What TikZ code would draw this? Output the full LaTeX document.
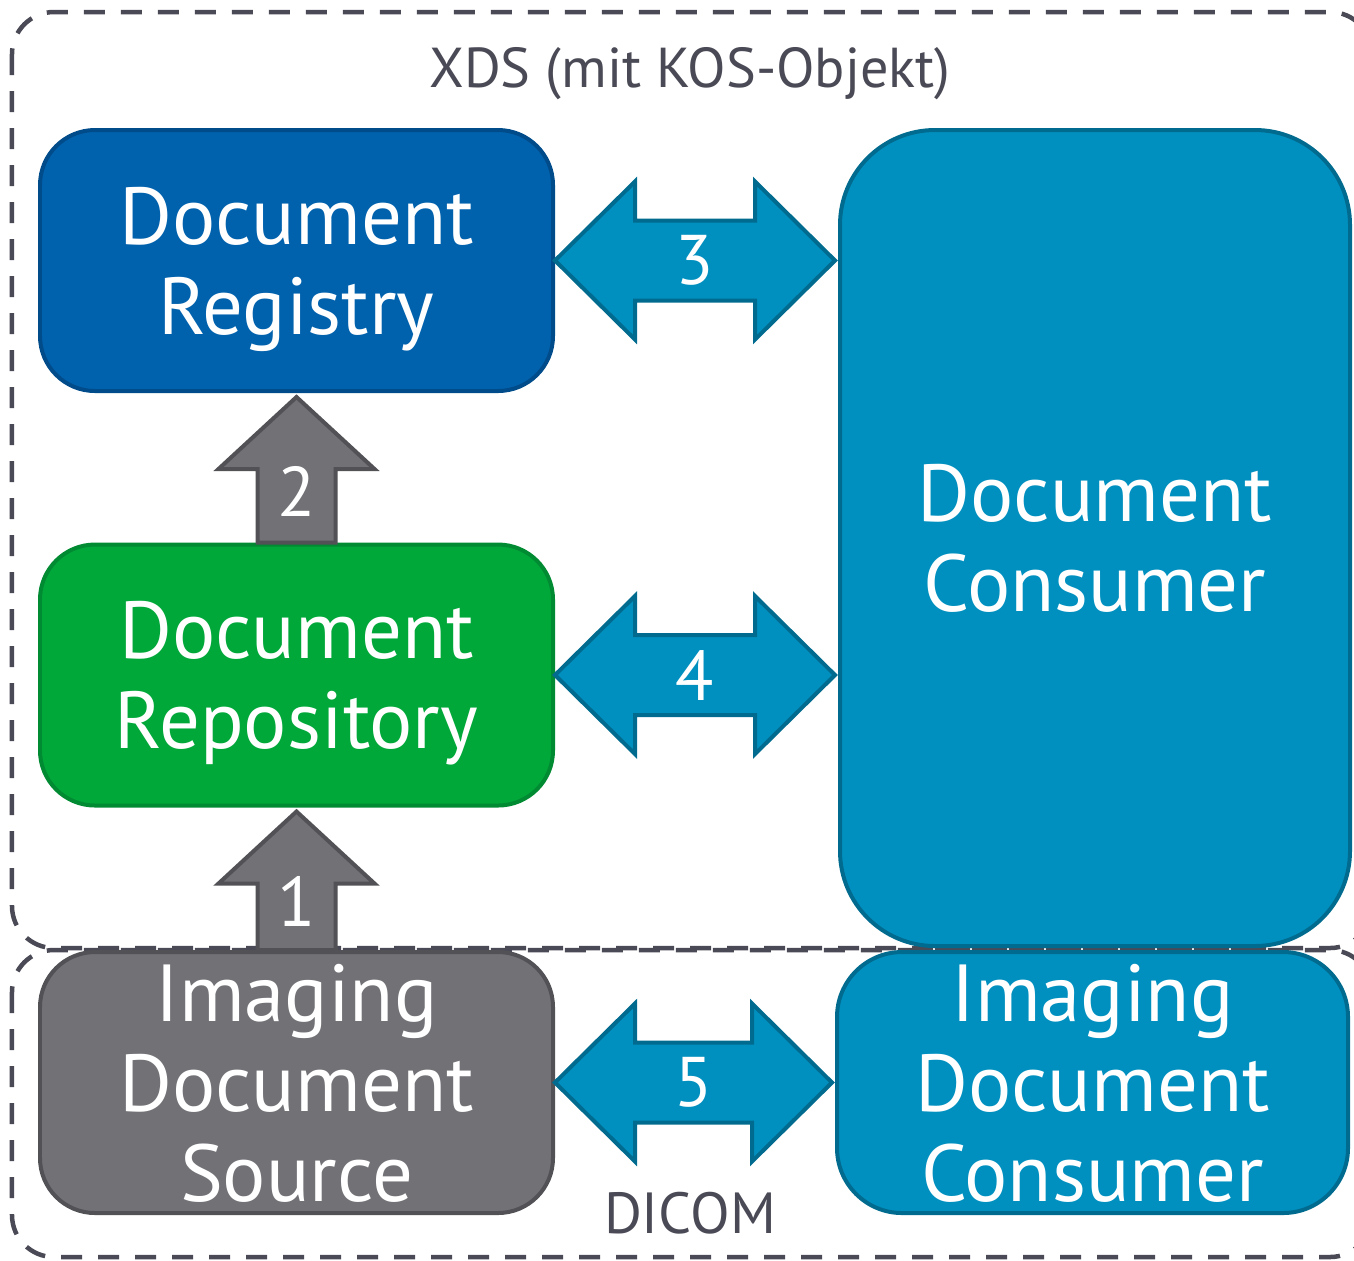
\documentclass[tikz,border=0pt]{standalone}
\usepackage{fontspec}
\setmainfont{PT Sans}
\usetikzlibrary{calc}
\definecolor{regblue}{HTML}{0061AD}
\definecolor{regline}{HTML}{004C8A}
\definecolor{repgreen}{HTML}{00A83A}
\definecolor{repline}{HTML}{008A32}
\definecolor{srcgray}{HTML}{717176}
\definecolor{srcline}{HTML}{525256}
\definecolor{consblue}{HTML}{0090C0}
\definecolor{consline}{HTML}{006B8E}
\definecolor{framegray}{HTML}{4A4A56}
\tikzstyle{frame}=[draw=framegray,line width=0.045cm,dash pattern=on 0.21cm off 0.16cm,rounded corners=0.42cm]
\tikzstyle{label}=[text=framegray,font=\fontsize{16}{18}\selectfont]
\tikzstyle{box}=[rounded corners=0.55cm,line width=0.04cm,text=white,align=center,inner sep=0pt,text depth=0pt,
  minimum width=5.13cm,minimum height=2.61cm,font=\fontsize{23}{25.6}\selectfont]
\tikzstyle{registry box}=[box,fill=regblue,draw=regline]
\tikzstyle{repository box}=[box,fill=repgreen,draw=repline]
\tikzstyle{source box}=[box,fill=srcgray,draw=srcline]
\tikzstyle{consumer box}=[box,fill=consblue,draw=consline]
\tikzstyle{blue arrow}=[fill=consblue,draw=consline,line width=0.04cm]
\tikzstyle{gray arrow}=[fill=srcgray,draw=srcline,line width=0.04cm]
\tikzstyle{num}=[text=white,inner sep=0pt,font=\fontsize{20}{20}\selectfont]

\begin{document}
\begin{tikzpicture}
    \useasboundingbox (0,0) rectangle (13.54,-12.60);
    % First the two dashed frames, cut at the right edge
    \begin{scope}
        \clip (0,0) rectangle (13.54,-12.60);
        \draw[frame] (0.12,-0.12) rectangle (13.72,-9.48);
        \draw[frame] (0.12,-9.50) rectangle (13.72,-12.57);
    \end{scope}
    \node[label,anchor=base] (xds) at (6.90,-0.87) {XDS (mit KOS-Objekt)};
    \node[label,anchor=base,font=\fontsize{16.5}{18}\selectfont] (dicom) at (6.90,-12.33) {DICOM};

    % Then the actors
    \node[registry box] (registry) at (2.965,-2.605) {Document\\Registry};
    \node[repository box] (repository) at (2.965,-6.75) {Document\\Repository};
    \node[source box] (source) at (2.965,-10.825) {Imaging\\Document\\Source};
    \node[consumer box,rounded corners=0.95cm,minimum width=5.10cm,minimum height=8.16cm] (consumer) at (10.95,-5.38) {Document\\Consumer};
    \node[consumer box,rounded corners=0.65cm,minimum width=5.11cm] (imgconsumer) at (10.925,-10.825) {Imaging\\Document\\Consumer};

    % Transactions between the actors
    \foreach \src/\dst/\num in {registry/consumer/3, repository/consumer/4, source/imgconsumer/5}
    {
        \coordinate (l\num) at ($(\src.east)+(0.0,0)$);
        \coordinate (r\num) at ($(\dst.west |- \src.east)+(-0.03,0)$);
        \draw[blue arrow] (l\num) -- ++(0.8,0.79) -- ++(0,-0.39) -- ($(r\num)+(-0.8,0.40)$) -- ++(0,0.39)
            -- (r\num) -- ++(-0.8,-0.79) -- ++(0,0.39) -- ($(l\num)+(0.8,-0.40)$) -- ++(0,-0.39) -- cycle;
        \node[num] (n\num) at ($(l\num)!0.5!(r\num)$) {\num};
    }
    \foreach \src/\dst/\num in {repository/registry/2, source/repository/1}
    {
        \coordinate (b\num) at (\src.north);
        \coordinate (t\num) at ($(\dst.south)+(0,-0.04)$);
        \draw[gray arrow] ($(b\num)+(-0.39,0)$) -- ($(t\num)+(-0.39,-0.72)$) -- ++(-0.39,0) -- (t\num)
            -- ++(0.78,-0.72) -- ++(-0.39,0) -- ($(b\num)+(0.39,0)$) -- cycle;
        \node[num] (n\num) at ($(b\num)!0.35!(t\num)$) {\num};
    }
\end{tikzpicture}
\end{document}
